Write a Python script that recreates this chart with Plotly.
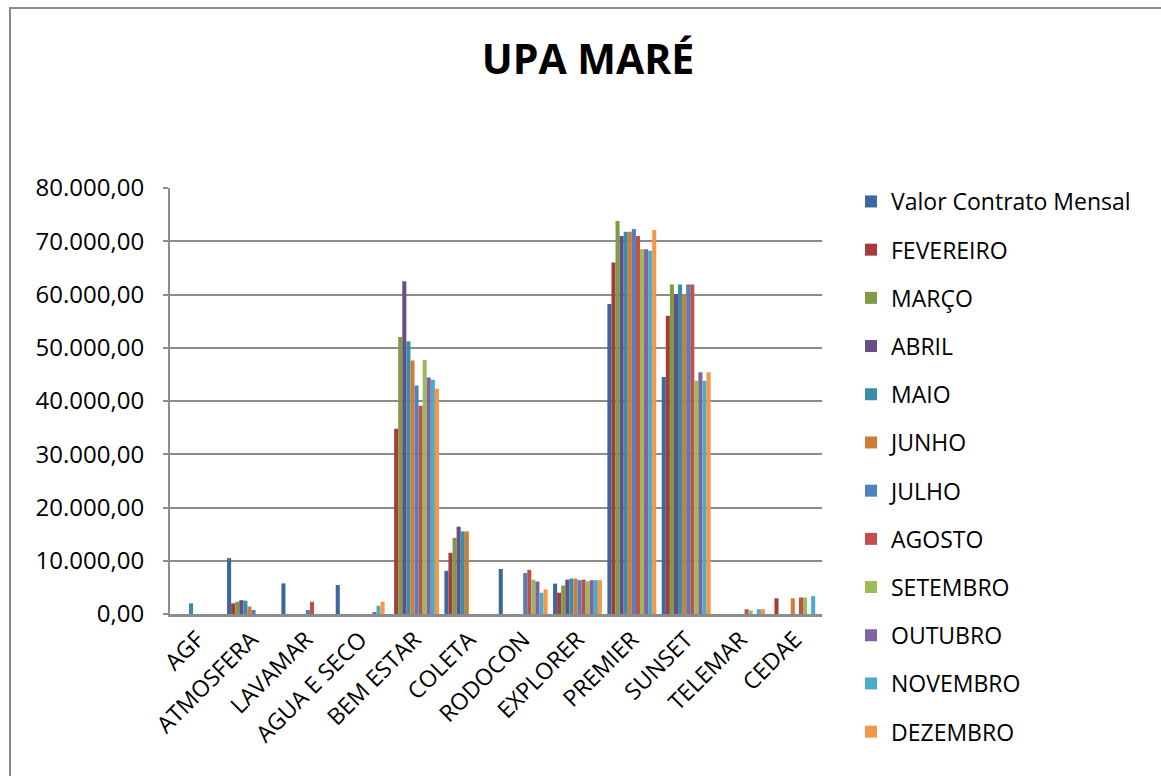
import plotly.graph_objects as go

categories = ["AGF", "ATMOSFERA", "LAVAMAR", "AGUA E SECO", "BEM ESTAR", "COLETA",
              "RODOCON", "EXPLORER", "PREMIER", "SUNSET", "TELEMAR", "CEDAE"]

valor_contrato = [0, 10500, 5750, 5450, 0, 8100, 8450, 5700, 58200, 44500, 0, 0]
fevereiro = [0, 2000, 0, 0, 34800, 11500, 0, 4000, 66000, 56000, 0, 2950]
marco = [0, 2300, 0, 0, 52000, 14300, 0, 5350, 73800, 61900, 0, 0]
abril = [0, 2600, 0, 0, 62500, 16400, 0, 6450, 71000, 60100, 0, 0]
maio = [2000, 2500, 0, 0, 51200, 15500, 0, 6650, 71800, 61900, 0, 0]
junho = [0, 1400, 0, 0, 47600, 15500, 0, 6650, 71800, 60100, 0, 2950]
julho = [0, 750, 750, 0, 42900, 0, 7700, 6350, 72300, 61900, 0, 0]
agosto = [0, 0, 2300, 0, 39100, 0, 8300, 6450, 71000, 61900, 900, 3100]
setembro = [0, 0, 0, 0, 47700, 0, 6450, 6150, 68500, 43800, 650, 3100]
outubro = [0, 0, 0, 250, 44400, 0, 6100, 6350, 68500, 45400, 0, 0]
novembro = [0, 0, 0, 1550, 44000, 0, 4000, 6350, 68200, 43800, 900, 3350]
dezembro = [0, 0, 0, 2300, 42300, 0, 4600, 6350, 72100, 45400, 900, 0]

series_names = ["Valor Contrato Mensal", "FEVEREIRO", "MARÇO", "ABRIL", "MAIO", "JUNHO",
                "JULHO", "AGOSTO", "SETEMBRO", "OUTUBRO", "NOVEMBRO", "DEZEMBRO"]
series_values = [valor_contrato, fevereiro, marco, abril, maio, junho,
                 julho, agosto, setembro, outubro, novembro, dezembro]
series_colors = ["#3D67A0", "#A33C3A", "#7F9C45", "#654F86", "#378EA6", "#D27B35",
                 "#4F81BD", "#C0504D", "#9BBB59", "#8064A2", "#4BACC6", "#F79646"]

y_tickvals = [0, 10000, 20000, 30000, 40000, 50000, 60000, 70000, 80000]
y_ticktext = ["0,00", "10.000,00", "20.000,00", "30.000,00", "40.000,00",
              "50.000,00", "60.000,00", "70.000,00", "80.000,00"]

FONT = "Open Sans, Liberation Sans, sans-serif"

fig = go.Figure()
for name, vals, col in zip(series_names, series_values, series_colors):
    fig.add_trace(go.Bar(
        x=categories, y=vals, name=name, legendgroup=name,
        marker=dict(color=col, line=dict(width=0)),
    ))

W, H = 1161, 776
L, R, T, B = 170, 339, 188, 162
pw, ph = W - L - R, H - T - B

def px_x(x):
    return (x - L) / pw

def px_y(y):
    return (H - B - y) / ph

fig.update_layout(
    width=W, height=H,
    margin=dict(l=L, r=R, t=T, b=B, autoexpand=False),
    paper_bgcolor="white", plot_bgcolor="white",
    barmode="group", bargap=0.1, bargroupgap=0,
    font=dict(family=FONT, size=23, color="#000000"),
    title=dict(text="<b>UPA MARÉ</b>", x=588 / W, xanchor="center",
               y=1 - 60 / H, yanchor="middle",
               font=dict(family=FONT, size=41, color="#000000")),
    legend=dict(x=px_x(851), xanchor="left", y=px_y(180), yanchor="top",
                font=dict(family=FONT, size=23, color="#000000"),
                tracegroupgap=15.3, itemclick=False, bgcolor="rgba(0,0,0,0)",
                maxheight=700),
    showlegend=True,
    xaxis=dict(showgrid=False, showline=True, linecolor="#8c8c8c", linewidth=3,
               tickangle=-45, ticks="", tickfont=dict(family=FONT, size=23),
               categoryorder="array", categoryarray=categories),
    yaxis=dict(range=[0, 80000], tickvals=y_tickvals, ticktext=y_ticktext,
               showgrid=True, gridcolor="#8c8c8c", gridwidth=2,
               showline=True, linecolor="#8c8c8c", linewidth=2,
               ticks="outside", ticklen=5, tickcolor="#8c8c8c", tickwidth=2,
               ticklabelstandoff=14, zeroline=False,
               tickfont=dict(family=FONT, size=24)),
    shapes=[dict(type="rect", xref="paper", yref="paper",
                 x0=px_x(10), x1=px_x(1180), y0=px_y(800), y1=px_y(8),
                 line=dict(color="#8a8a8a", width=2), fillcolor="rgba(0,0,0,0)",
                 layer="below")],
)

fig.write_html("out.html",
               config={"displayModeBar": False},
               post_script="document.body.style.margin='0';document.body.style.overflow='hidden';")
